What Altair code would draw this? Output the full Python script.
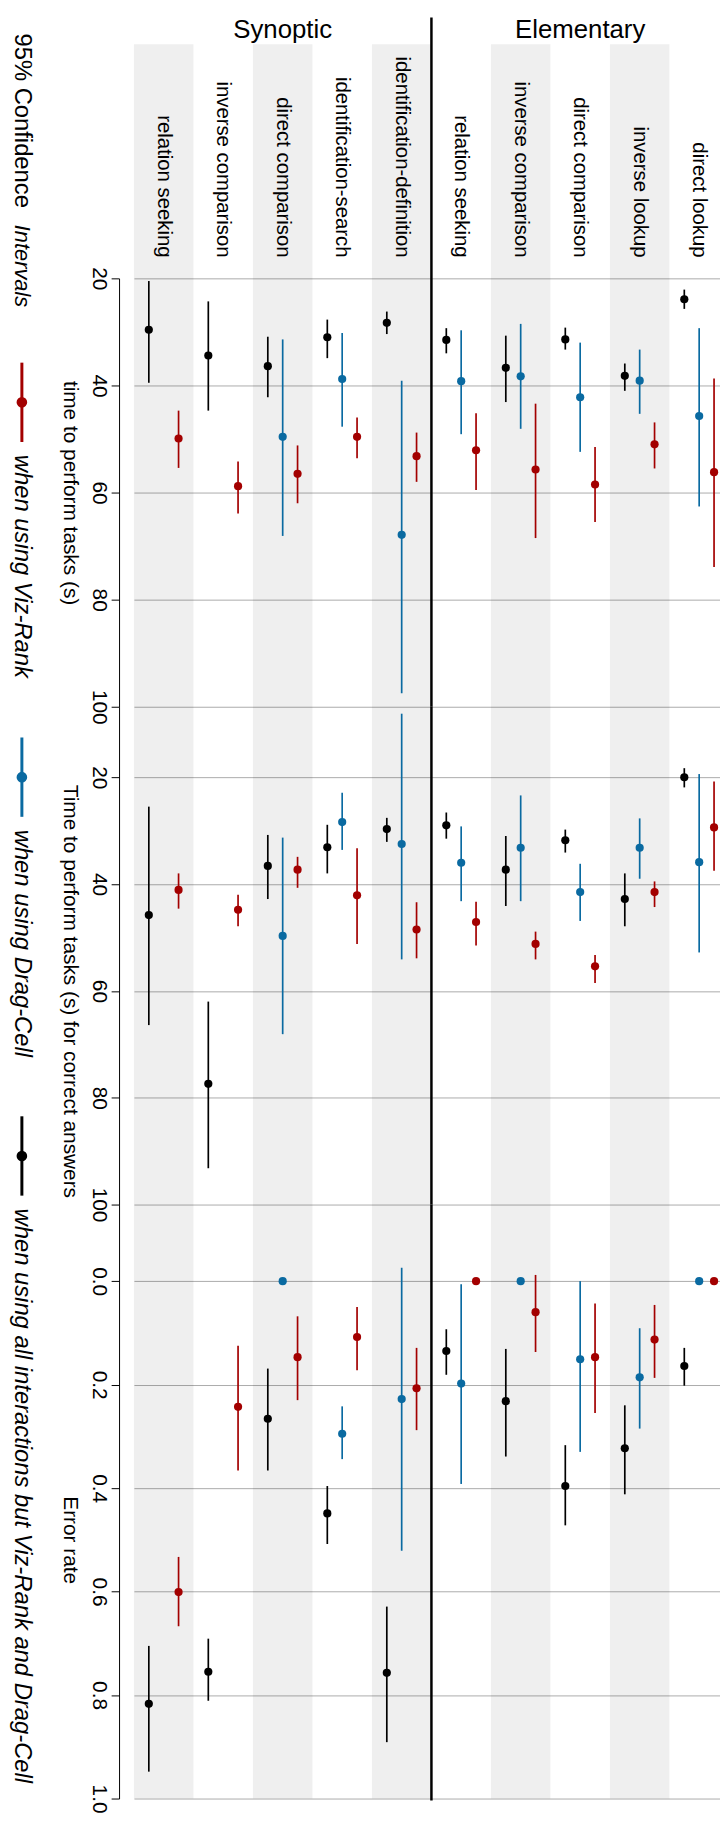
import altair as alt
import pandas as pd

FONT = "Liberation Sans"

# ---------------- data ----------------
GROUP_NAMES = ["Synoptic", "Elementary"]
GROUPS = ["Synoptic"] * 5 + ["Elementary"] * 5
TASKS = ["relation seeking", "inverse comparison", "direct comparison",
         "identification-search", "identification-definition",
         "relation seeking", "inverse comparison", "direct comparison",
         "inverse lookup", "direct lookup"]
KEYS = [f"{g}: {t}" for g, t in zip(GROUPS, TASKS)]

SERIES = ["all but Viz-Rank and Drag-Cell", "Drag-Cell", "Viz-Rank"]
COLORS = ["#000000", "#0a6aa1", "#a30000"]
LEGEND_TITLE = ["95% Confidence", "Intervals"]
LEGEND_LABELS = ["when using Viz-Rank", "when using Drag-Cell",
                 "when using all interactions but Viz-Rank and Drag-Cell"]

# Panel 1: time to perform tasks (s)
TIME_OTHER    = [29.6, 34.4, 36.4, 31.0, 28.3, 31.5, 36.7, 31.4, 38.2, 23.9]
TIME_OTHER_LO = [20.5, 24.3, 30.9, 27.7, 26.2, 29.3, 30.7, 29.2, 35.9, 22.1]
TIME_OTHER_HI = [39.5, 44.7, 42.2, 34.9, 30.4, 34.0, 43.1, 33.3, 41.0, 25.7]
TIME_DRAG     = [None, None, 49.6, 38.8, 67.9, 39.2, 38.3, 42.2, 39.1, 45.7]
TIME_DRAG_LO  = [None, None, 31.4, 30.2, 39.1, 29.7, 28.5, 32.0, 33.3, 29.3]
TIME_DRAG_HI  = [None, None, 68.1, 47.7, 97.5, 49.1, 48.1, 52.4, 45.3, 62.6]
TIME_VIZ      = [49.9, 58.8, 56.5, 49.6, 53.2, 52.1, 55.7, 58.5, 51.0, 56.2]
TIME_VIZ_LO   = [44.7, 54.2, 51.2, 46.0, 48.8, 45.2, 43.4, 51.5, 46.9, 38.7]
TIME_VIZ_HI   = [55.4, 63.9, 62.0, 53.6, 58.0, 59.5, 68.5, 65.5, 55.5, 73.9]

# Panel 2: time to perform tasks (s) for correct answers
CORR_OTHER    = [45.8, 77.4, 36.6, 33.1, 29.7, 29.0, 37.3, 31.8, 42.8, 20.0]
CORR_OTHER_LO = [25.5, 62.0, 30.8, 28.9, 27.6, 26.6, 31.0, 29.8, 38.0, 18.3]
CORR_OTHER_HI = [66.4, 93.2, 42.8, 38.0, 32.1, 31.5, 44.1, 34.1, 47.9, 21.9]
CORR_DRAG     = [None, None, 49.7, 28.4, 32.5, 36.0, 33.2, 41.5, 33.2, 35.9]
CORR_DRAG_LO  = [None, None, 31.3, 22.9, 8.1, 29.2, 23.4, 36.2, 27.7, 19.4]
CORR_DRAG_HI  = [None, None, 68.1, 33.6, 54.1, 43.2, 43.2, 46.9, 39.0, 52.8]
CORR_VIZ      = [41.1, 44.8, 37.3, 42.1, 48.5, 47.1, 51.2, 55.4, 41.5, 29.4]
CORR_VIZ_LO   = [38.0, 42.0, 34.9, 33.3, 43.4, 43.3, 48.9, 53.3, 39.5, 20.8]
CORR_VIZ_HI   = [44.6, 47.9, 40.7, 51.2, 53.9, 51.5, 54.1, 58.5, 44.3, 37.5]

# Panel 3: error rate
ERR_OTHER    = [0.817, 0.755, 0.266, 0.449, 0.757, 0.135, 0.232, 0.396, 0.323, 0.164]
ERR_OTHER_LO = [0.705, 0.691, 0.169, 0.396, 0.629, 0.093, 0.131, 0.317, 0.240, 0.129]
ERR_OTHER_HI = [0.948, 0.811, 0.366, 0.508, 0.891, 0.181, 0.339, 0.472, 0.412, 0.202]
ERR_DRAG     = [None, None, 0.0, 0.295, 0.228, 0.198, 0.0, 0.151, 0.186, 0.0]
ERR_DRAG_LO  = [None, None, 0.0, 0.242, -0.026, 0.006, 0.0, 0.0, 0.091, 0.0]
ERR_DRAG_HI  = [None, None, 0.0, 0.344, 0.521, 0.392, 0.0, 0.330, 0.285, 0.0]
ERR_VIZ      = [0.601, 0.243, 0.147, 0.108, 0.207, 0.0, 0.060, 0.147, 0.113, 0.0]
ERR_VIZ_LO   = [0.533, 0.125, 0.068, 0.050, 0.129, 0.0, -0.012, 0.043, 0.046, 0.0]
ERR_VIZ_HI   = [0.667, 0.366, 0.230, 0.172, 0.288, 0.0, 0.137, 0.255, 0.187, 0.0]

TIME_TICKS = [20, 40, 60, 80, 100]
ERR_TICKS = [0.0, 0.2, 0.4, 0.6, 0.8, 1.0]


def panel_df(pts, los, his):
    rows = []
    for s, p, l, h in zip(SERIES, pts, los, his):
        for k, pv, lv, hv in zip(KEYS, p, l, h):
            if pv is None:
                continue
            rows.append(dict(key=k, series=s, pt=pv, lo=lv, hi=hv))
    return pd.DataFrame(rows)


df1 = panel_df([TIME_OTHER, TIME_DRAG, TIME_VIZ],
               [TIME_OTHER_LO, TIME_DRAG_LO, TIME_VIZ_LO],
               [TIME_OTHER_HI, TIME_DRAG_HI, TIME_VIZ_HI])
df2 = panel_df([CORR_OTHER, CORR_DRAG, CORR_VIZ],
               [CORR_OTHER_LO, CORR_DRAG_LO, CORR_VIZ_LO],
               [CORR_OTHER_HI, CORR_DRAG_HI, CORR_VIZ_HI])
df3 = panel_df([ERR_OTHER, ERR_DRAG, ERR_VIZ],
               [ERR_OTHER_LO, ERR_DRAG_LO, ERR_VIZ_LO],
               [ERR_OTHER_HI, ERR_DRAG_HI, ERR_VIZ_HI])

# ---------------- scales ----------------
W = 606
TOP = -263  # top of the drawing, relative to the first plot's top edge
xscale = alt.Scale(domain=KEYS, range=[15, 615], paddingInner=0, paddingOuter=0)
X = alt.X("key:N", scale=xscale, axis=None)
XOFF = alt.XOffset("series:N", scale=alt.Scale(domain=SERIES, paddingInner=0, paddingOuter=0.5))
COLOR = alt.Color("series:N", scale=alt.Scale(domain=SERIES, range=COLORS), legend=None)


def make_panel(df, height, domain, ticks, fmt, title, title_y, band_top, sep_top, sep_bottom, extra=()):
    axis = alt.Axis(values=ticks, format=fmt, title=title, grid=True,
                    gridColor="#ababab", gridWidth=1,
                    domainColor="black", domainWidth=1,
                    tickColor="black", tickSize=8, tickWidth=1,
                    labelAngle=90, labelAlign="center", labelBaseline="top",
                    labelFontSize=21, labelColor="black", labelPadding=2,
                    labelFlush=False, labelOverlap=False,
                    titleAngle=90, titleAlign="center", titleBaseline="top",
                    titleFontSize=21, titleFontWeight="normal", titleColor="black",
                    titleX=-39, titleY=title_y)
    yscale = alt.Scale(domain=domain, nice=False, zero=False, reverse=True)
    bands = alt.Chart(pd.DataFrame({"key": KEYS[0::2]})).mark_rect(
        color="black", opacity=0.063).encode(
        x=X, y=alt.value(band_top), y2=alt.value(height))
    bars = alt.Chart(df).mark_rule(strokeWidth=1.7).encode(
        x=X, xOffset=XOFF,
        y=alt.Y("lo:Q", scale=yscale, axis=axis), y2="hi:Q",
        color=COLOR)
    pts = alt.Chart(df).mark_circle(size=68, opacity=1).encode(
        x=X, xOffset=XOFF,
        y=alt.Y("pt:Q", scale=yscale, axis=axis),
        color=COLOR)
    sep = alt.Chart(pd.DataFrame({"key": [KEYS[5]]})).mark_rule(
        color="black", strokeWidth=2.5).encode(
        x=alt.X("key:N", scale=xscale, axis=None, bandPosition=0),
        y=alt.value(sep_top), y2=alt.value(sep_bottom))
    return alt.layer(bands, bars, pts, sep, *extra).properties(width=W, height=height)


one = pd.DataFrame({"a": [0]})

# header: group titles and task labels
group_titles = alt.Chart(pd.DataFrame({"key": [KEYS[2], KEYS[7]], "group": GROUP_NAMES})).mark_text(
    fontSize=26, align="center", baseline="top", color="black").encode(
    x=X, y=alt.value(TOP), text="group:N")
task_labels = alt.Chart(pd.DataFrame({"key": KEYS, "task": TASKS})).mark_text(
    angle=90, align="right", baseline="middle", fontSize=20.5, color="black").encode(
    x=X, y=alt.value(-21), text="task:N")

# legend (drawn in the left margin, rotated)
LX_LINE = -98
LX_TEXT = -104.5
legend_layers = [
    alt.Chart(pd.DataFrame({"t": [LEGEND_TITLE[0]]})).mark_text(
        angle=90, align="left", baseline="alphabetic", fontSize=24, color="black").encode(
        x=alt.value(LX_TEXT), y=alt.value(-247), text="t:N"),
    alt.Chart(pd.DataFrame({"t": [LEGEND_TITLE[1]]})).mark_text(
        angle=90, align="left", baseline="alphabetic", fontSize=22, fontStyle="italic", color="black").encode(
        x=alt.value(LX_TEXT), y=alt.value(-54), text="t:N"),
]
legend_spec = [  # (series index, line top, line bottom, dot, text start, label)
    (2, 85, 165, 125, 178, LEGEND_LABELS[0]),
    (1, 463, 543, 503, 556, LEGEND_LABELS[1]),
    (0, 845, 925, 885, 938, LEGEND_LABELS[2]),
]
for si, y0, y1, yd, yt, lab in legend_spec:
    c = COLORS[si]
    legend_layers.append(alt.Chart(one).mark_rule(color=c, strokeWidth=3).encode(
        x=alt.value(LX_LINE), y=alt.value(y0), y2=alt.value(y1)))
    legend_layers.append(alt.Chart(one).mark_circle(color=c, size=115, opacity=1).encode(
        x=alt.value(LX_LINE), y=alt.value(yd)))
    legend_layers.append(alt.Chart(pd.DataFrame({"t": [lab]})).mark_text(
        angle=90, align="left", baseline="alphabetic", fontSize=24, fontStyle="italic", color="black").encode(
        x=alt.value(LX_TEXT), y=alt.value(yt), text="t:N"))

# invisible anchor fixing the top-left corner of the drawing
anchor = alt.Chart(one).mark_rect(opacity=0).encode(
    x=alt.value(-112), x2=alt.value(-111), y=alt.value(TOP), y2=alt.value(TOP + 1))

H1, H2, H3 = 432, 502, 599
p1 = make_panel(df1, H1, [20, 100], TIME_TICKS, "d", "time to perform tasks (s)", 216,
                band_top=-236, sep_top=TOP, sep_bottom=H1,
                extra=[group_titles, task_labels, anchor] + legend_layers)
p2 = make_panel(df2, H2, [6.8, 100], TIME_TICKS, "d", "Time to perform tasks (s) for correct answers", 286.5,
                band_top=0, sep_top=0, sep_bottom=H2)
p3 = make_panel(df3, H3, [-0.148, 1.0], ERR_TICKS, ".1f", "Error rate", 338,
                band_top=0, sep_top=0, sep_bottom=H3 + 2)

chart = alt.vconcat(p1, p2, p3, spacing=0, bounds="flush",
                    padding={"left": 0, "right": 0, "top": 0, "bottom": 0}).configure(
    font=FONT).configure_view(stroke=None)

chart.save("out.html", embed_options={"renderer": "svg", "actions": False})
